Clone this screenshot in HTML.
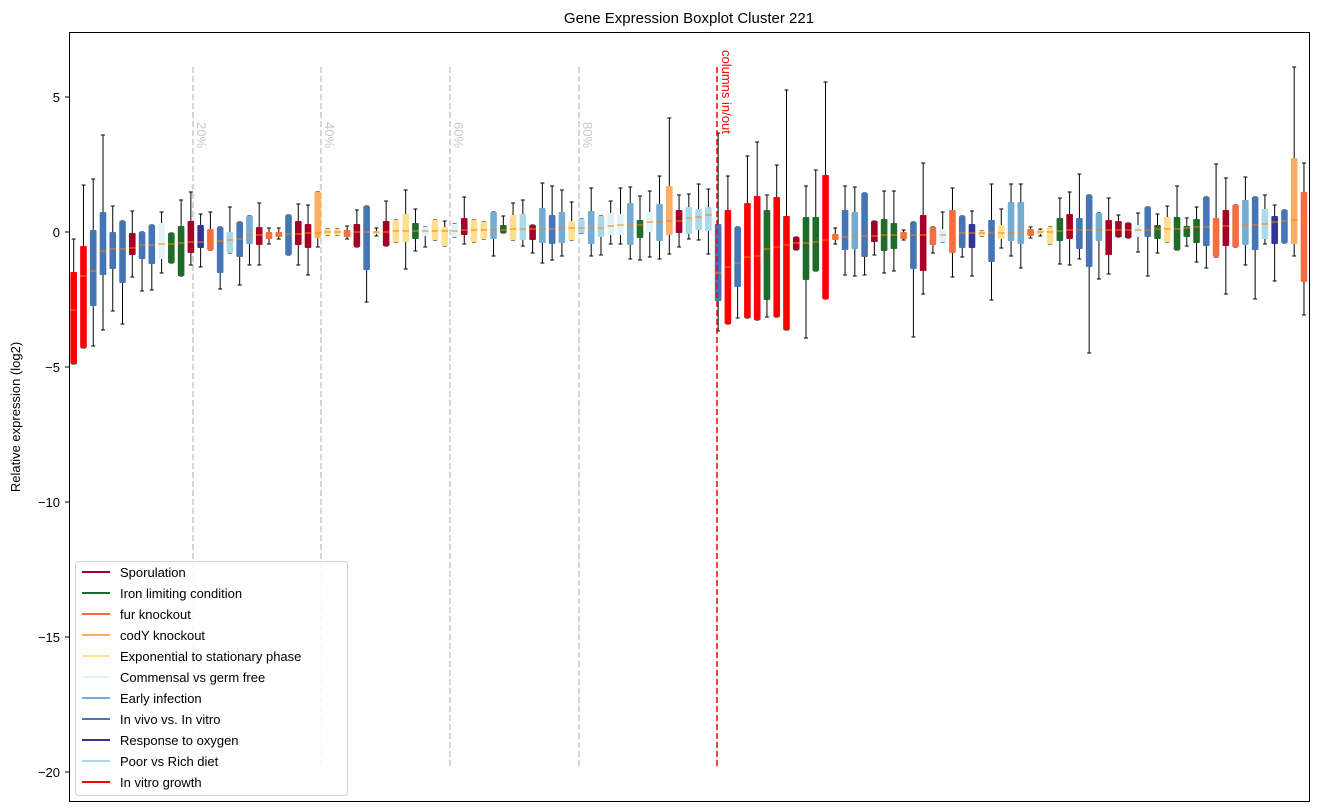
<!DOCTYPE html>
<html><head><meta charset="utf-8"><style>
body{margin:0;background:#fff;}
svg{display:block;font-family:"Liberation Sans","DejaVu Sans",sans-serif;}
</style></head><body>
<svg id="s" width="1318" height="812" xmlns="http://www.w3.org/2000/svg">
<rect width="1318" height="812" fill="#fff"/>
<text x="689" y="23" font-size="15" text-anchor="middle">Gene Expression Boxplot Cluster 221</text>
<text transform="translate(20,417) rotate(-90)" font-size="13" text-anchor="middle">Relative expression (log2)</text>
<g id="grid"></g>
<g id="boxes"></g>
<rect x="69.5" y="32.5" width="1240" height="769" fill="none" stroke="#000" stroke-width="1"/>
<g font-size="13" text-anchor="end">
<line x1="65" y1="97" x2="69" y2="97" stroke="#000"/><text x="60" y="102">5</text>
<line x1="65" y1="232" x2="69" y2="232" stroke="#000"/><text x="60" y="237">0</text>
<line x1="65" y1="367" x2="69" y2="367" stroke="#000"/><text x="60" y="372">−5</text>
<line x1="65" y1="502" x2="69" y2="502" stroke="#000"/><text x="60" y="507">−10</text>
<line x1="65" y1="637" x2="69" y2="637" stroke="#000"/><text x="60" y="642">−15</text>
<line x1="65" y1="772" x2="69" y2="772" stroke="#000"/><text x="60" y="777">−20</text>
</g>
<g id="legend"></g>
</svg>
<script>
var C={r:"#ff0000",c:"#a50026",g:"#1e6b2a",o:"#f46d43",s:"#fdae61",k:"#fee090",lc:"#e0f3f8",m:"#74add1",b:"#4575b4",n:"#313695",lb:"#abd9e9"};
// color, boxTop, boxBottom, median, whiskTop, whiskBottom
var D=[
["r",272,364,310,239,364],["r",246,348,276,185,348],["b",230,306,271,179,346],["b",212,275,251,135,330],["b",232,269,249,206,311],
["b",221,283,249,221,324],["c",233,255,248,211,277],["b",232,259,245,232,291],["b",225,264,245,225,290],["lc",223,259,244,212,273],
["g",233,263,244,233,263],["g",226,276,243,200,276],["c",221,253,242,192,265],["n",225,248,242,214,267],["o",229,250,242,212,250],
["b",227,273,241,227,289],["lb",232,253,240,207,253],["b",222,257,239,222,285],["m",216,244,235,216,265],["c",227,245,235,203,265],
["o",232,239,235,228,244],["o",232,237,234,228,239],["b",215,255,234,215,255],["c",221,245,234,204,265],["c",224,248,233,205,275],
["s",192,238,233,192,247],["k",229,235,232,229,235],["k",229,235,232,229,235],["o",230,237,233,226,239],["c",224,247,232,210,247],
["b",206,270,232,206,302],["k",231,234,232,228,236],["c",221,246,232,201,246],["k",220,242,231,220,242],["k",214,242,231,190,269],
["g",223,239,231,209,251],["lc",227,236,231,227,247],["k",220,240,231,220,240],["k",227,246,231,221,246],["lc",224,237,231,224,237],
["c",218,235,230,197,244],["k",220,242,230,220,242],["k",222,239,230,222,239],["m",212,239,230,212,256],["g",225,233,230,216,233],
["k",215,240,229,203,240],["lb",214,240,229,200,246],["c",225,240,229,225,253],["m",208,243,229,183,263],["b",215,244,229,186,260],
["m",212,243,228,190,256],["k",221,240,228,202,240],["lb",219,233,228,219,233],["m",211,244,228,188,256],["lb",216,237,228,216,255],
["lc",213,235,226,201,244],["lc",214,235,225,188,244],["m",203,245,225,187,259],["g",220,238,225,196,260],["lc",212,232,222,191,257],
["m",204,241,222,176,259],["s",186,235,221,118,254],["c",210,233,221,195,247],["lb",207,234,218,194,239],["lb",209,230,217,184,240],
["lb",207,231,215,189,254],["b",224,301,273,133,331],
["r",210,324,267,176,324],["b",227,287,263,227,318],["r",203,318,257,156,318],["r",196,320,256,142,320],["g",210,300,249,195,317],
["r",197,317,247,165,317],["r",216,330,245,90,330],["c",237,250,243,237,250],["g",217,280,243,186,338],["g",217,271,242,170,271],
["r",175,299,240,82,299],["o",234,240,237,228,244],["b",210,250,237,186,275],["m",212,249,236,187,276],["b",193,257,236,193,275],
["c",221,242,236,221,255],["g",219,251,235,191,273],["g",223,249,235,191,271],["o",232,239,235,230,240],["b",222,269,235,222,337],
["c",215,271,235,163,294],["o",227,245,235,227,253],["lc",229,242,235,212,242],["o",210,253,234,188,277],["b",216,248,233,216,257],
["n",224,248,233,211,276],["k",231,236,233,231,236],["b",220,262,233,184,300],["k",225,239,233,209,248],["m",202,241,233,184,256],
["m",202,244,232,184,268],["o",229,236,232,227,238],["k",230,234,232,229,236],["k",227,244,232,227,244],["g",218,241,231,198,264],
["c",214,239,230,192,265],["b",218,249,230,174,259],["b",195,267,230,195,353],["m",213,241,230,213,279],["c",220,255,230,198,274],
["c",221,237,230,215,237],["c",223,238,230,223,238],["lc",225,237,230,213,252],["b",207,237,230,207,276],["g",225,239,229,214,253],
["k",217,242,229,206,242],["g",217,250,229,186,250],["g",226,237,228,218,246],["g",219,243,227,207,262],["b",197,246,227,197,268],
["o",218,257,226,164,257],["c",210,246,226,178,294],["o",205,247,226,205,247],["m",200,245,225,177,265],["b",197,250,225,197,299],
["lb",209,239,224,195,244],["n",216,244,222,205,281],["b",210,243,221,210,243],["s",158,244,220,67,256],["o",192,282,219,163,315]
];
var ns="http://www.w3.org/2000/svg";
function el(t,a,p){var e=document.createElementNS(ns,t);for(var k in a)e.setAttribute(k,a[k]);p.appendChild(e);return e;}
var g=document.getElementById("boxes"),gr=document.getElementById("grid");
[193,321,450,579].forEach(function(x,i){
 el("line",{x1:x,y1:67,x2:x,y2:767,stroke:"#c8c8c8","stroke-width":1.5,"stroke-dasharray":"6,3"},gr);
 var t=el("text",{transform:"translate("+(x+4)+",122) rotate(90)","font-size":"13",fill:"#c8c8c8"},gr);t.textContent=(20*(i+1))+"%";
});
D.forEach(function(d,i){
 var x=73.7+i*9.764,col=C[d[0]];
 el("line",{x1:x,y1:d[4],x2:x,y2:d[1],stroke:"#000","stroke-width":1},g);
 el("line",{x1:x,y1:d[2],x2:x,y2:d[5],stroke:"#000","stroke-width":1},g);
 el("line",{x1:x-2,y1:d[4],x2:x+2,y2:d[4],stroke:"#000","stroke-width":1},g);
 el("line",{x1:x-2,y1:d[5],x2:x+2,y2:d[5],stroke:"#000","stroke-width":1},g);
 el("rect",{x:x-3.3,y:d[1],width:6.6,height:Math.max(d[2]-d[1],2),fill:col,rx:1},g);
 el("line",{x1:x-3.3,y1:d[3],x2:x+3.3,y2:d[3],stroke:"#ff7f0e","stroke-width":1},g);
});
el("line",{x1:717,y1:67,x2:717,y2:767,stroke:"#ff0000","stroke-width":1.5,"stroke-dasharray":"6,3"},g);
var t=el("text",{transform:"translate(722,50) rotate(90)","font-size":"13",fill:"#ff0000"},g);t.textContent="columns in/out";
var lg=document.getElementById("legend");
el("rect",{x:75.5,y:561.5,width:272,height:234,rx:3,fill:"#fff","fill-opacity":0.85,stroke:"#d0d0d0"},lg);
[["Sporulation","c"],["Iron limiting condition","g"],["fur knockout","o"],["codY knockout","s"],["Exponential to stationary phase","k"],["Commensal vs germ free","lc"],["Early infection","m"],["In vivo vs. In vitro","b"],["Response to oxygen","n"],["Poor vs Rich diet","lb"],["In vitro growth","r"]].forEach(function(e,i){
 var y=572+i*21;
 el("line",{x1:82,y1:y,x2:110,y2:y,stroke:C[e[1]],"stroke-width":2},lg);
 var tt=el("text",{x:120,y:y+5,"font-size":"13"},lg);tt.textContent=e[0];
});
</script>
</body></html>
